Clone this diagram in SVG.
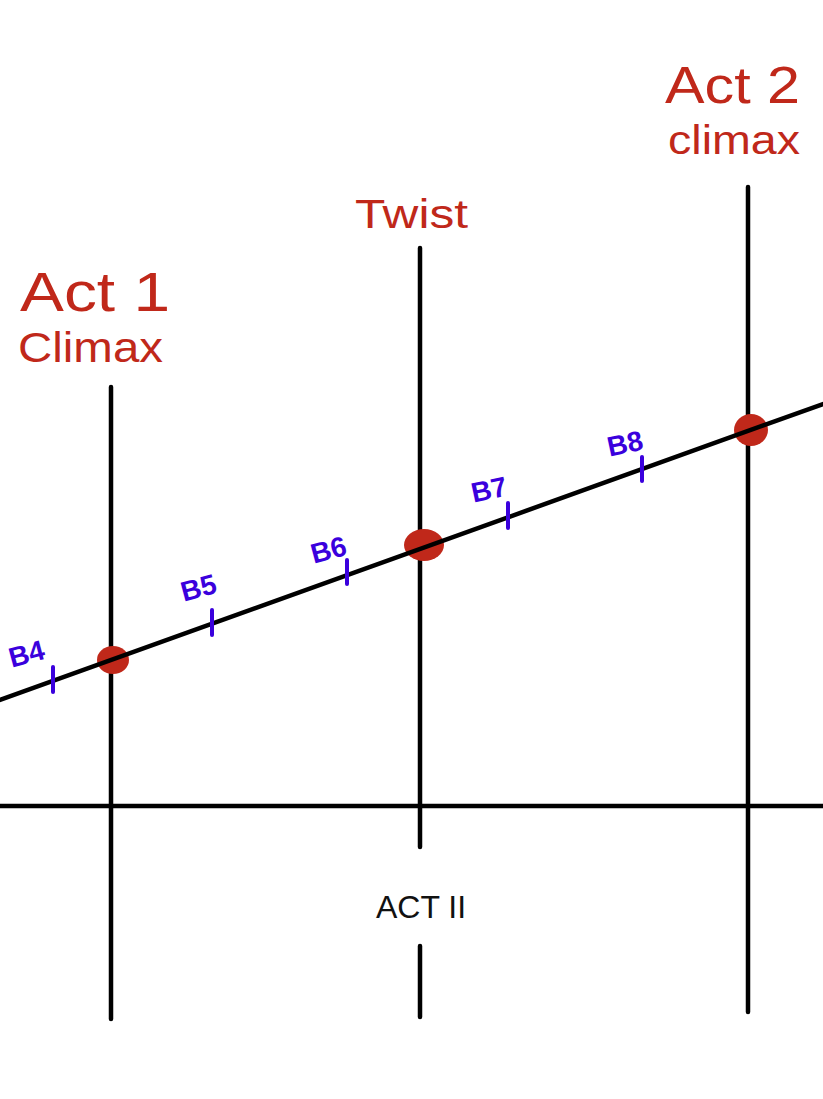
<svg xmlns="http://www.w3.org/2000/svg" width="823" height="1099" viewBox="0 0 823 1099">
<style>
.ln{stroke:#000;stroke-width:4.5;stroke-linecap:round;fill:none}
.tick{stroke:#3a00dd;stroke-width:4;stroke-linecap:round}
.dot{fill:#c0281a}
.red{fill:#c0281a;font-family:"Liberation Sans",sans-serif}
.blue{fill:#3a00dd;font-family:"Liberation Sans",sans-serif;font-weight:bold;font-size:28px}
.act{fill:#111;font-family:"Liberation Sans",sans-serif;font-size:32px}
</style>
<rect width="823" height="1099" fill="#fff"/>
<g id="connectors">
<line class="ln" x1="0" y1="806" x2="823" y2="806"/>
<line class="ln" x1="111" y1="387" x2="111" y2="1019"/>
<line class="ln" x1="420" y1="248" x2="420" y2="847"/>
<line class="ln" x1="420" y1="946" x2="420" y2="1017"/>
<line class="ln" x1="748" y1="187" x2="748" y2="1012"/>
</g>
<g id="dots">
<ellipse class="dot" cx="113" cy="660" rx="16" ry="14"/>
<ellipse class="dot" cx="424" cy="545" rx="20" ry="16"/>
<ellipse class="dot" cx="751" cy="430" rx="17" ry="16"/>
</g>
<g id="timeline">
<line class="ln" x1="0" y1="700" x2="823" y2="404"/>
</g>
<g id="ticks">
<line class="tick" x1="53" y1="667" x2="53" y2="692"/><text class="blue" transform="translate(29,663) rotate(-15)" text-anchor="middle">B4</text>
<line class="tick" x1="212" y1="610" x2="212" y2="635"/><text class="blue" transform="translate(201,597) rotate(-15)" text-anchor="middle">B5</text>
<line class="tick" x1="347" y1="560" x2="347" y2="584"/><text class="blue" transform="translate(331,559) rotate(-15)" text-anchor="middle">B6</text>
<line class="tick" x1="508" y1="503" x2="508" y2="528"/><text class="blue" transform="translate(491,499) rotate(-12)" text-anchor="middle">B7</text>
<line class="tick" x1="642" y1="457" x2="642" y2="481"/><text class="blue" transform="translate(627,453) rotate(-12)" text-anchor="middle">B8</text>
</g>
<g id="act1">
<text class="red" x="20" y="311" font-size="55" textLength="150" lengthAdjust="spacingAndGlyphs">Act 1</text>
<text class="red" x="18" y="362" font-size="42" textLength="145" lengthAdjust="spacingAndGlyphs">Climax</text>
</g>
<g id="twist">
<text class="red" x="355" y="228" font-size="40" textLength="113" lengthAdjust="spacingAndGlyphs">Twist</text>
</g>
<g id="act2">
<text class="red" x="665" y="103" font-size="52" textLength="135" lengthAdjust="spacingAndGlyphs">Act 2</text>
<text class="red" x="668" y="154" font-size="40" textLength="132" lengthAdjust="spacingAndGlyphs">climax</text>
</g>
<g id="actII">
<text class="act" x="421" y="918" text-anchor="middle">ACT II</text>
</g>
</svg>
